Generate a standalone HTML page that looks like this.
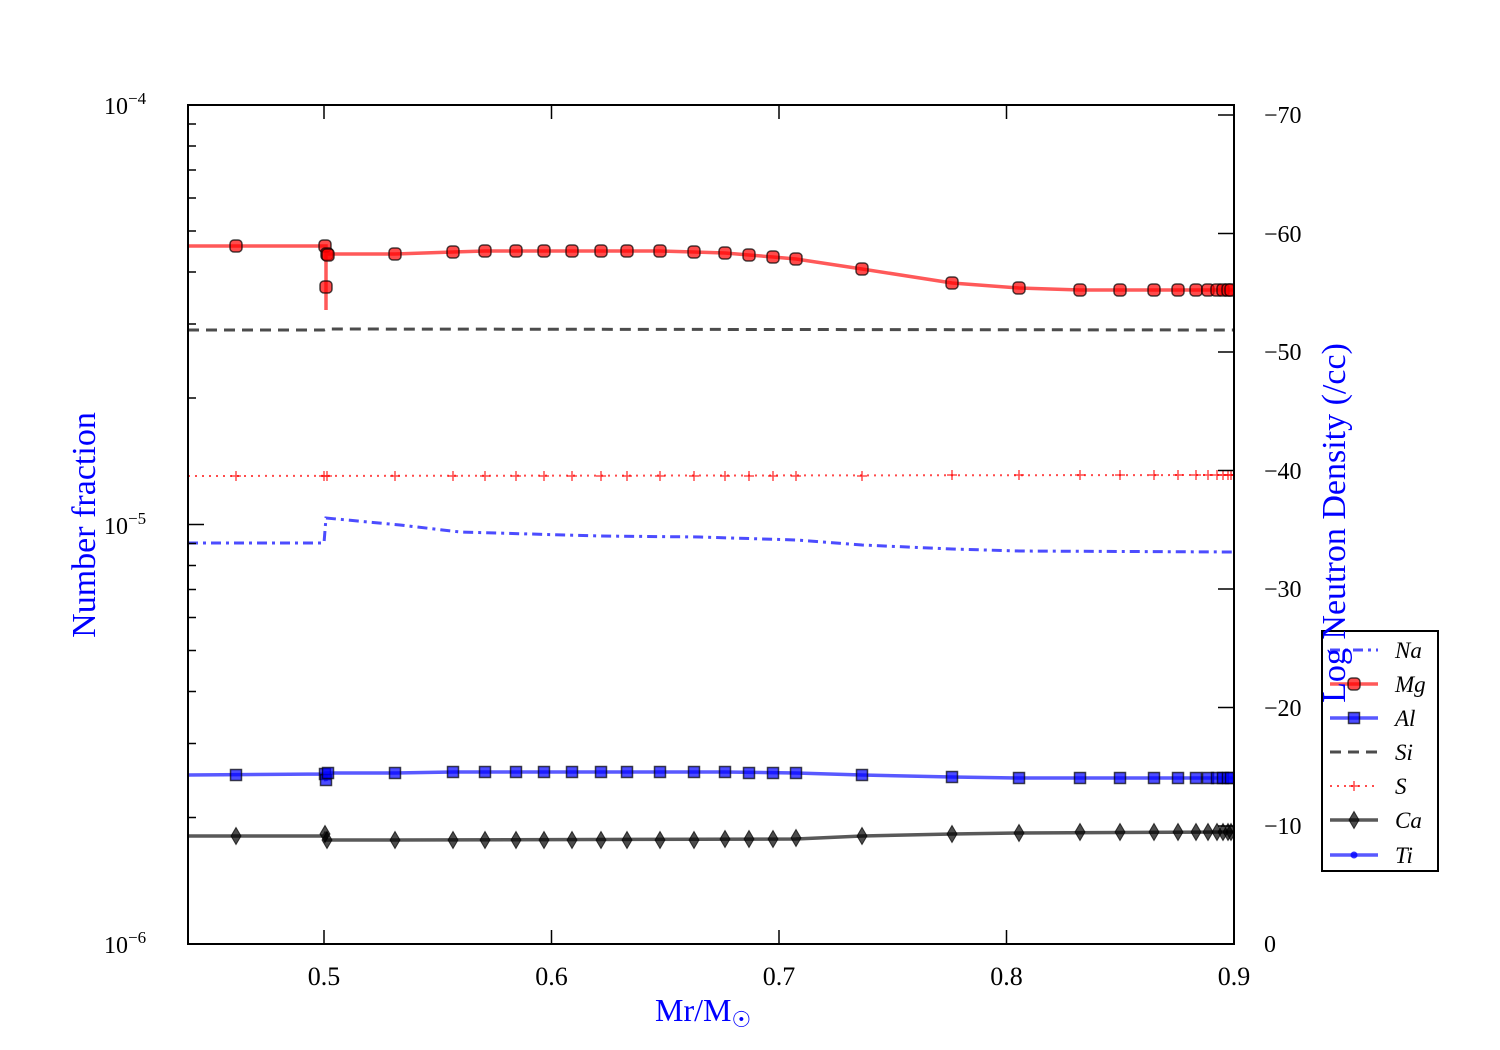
<!DOCTYPE html>
<html><head><meta charset="utf-8"><style>body{margin:0;background:#fff}svg{display:block}</style></head><body>
<svg width="1500" height="1050" xmlns="http://www.w3.org/2000/svg" font-family="Liberation Serif, serif">
<rect width="1500" height="1050" fill="#fff"/>
<defs>
<clipPath id="c"><rect x="188" y="105" width="1046" height="839"/></clipPath>
<g id="mg"><rect x="-6" y="-6" width="12" height="12" rx="3.8" fill="#ff0000" fill-opacity="0.7" stroke="#000" stroke-opacity="0.7" stroke-width="1.5"/></g>
<g id="al"><rect x="-5.5" y="-5.5" width="11" height="11" fill="#0000ff" fill-opacity="0.7" stroke="#000" stroke-opacity="0.7" stroke-width="1.5"/></g>
<g id="ca"><path d="M0,-8.5 L5,0 L0,8.5 L-5,0 Z" fill="#000" fill-opacity="0.7" stroke="#000" stroke-opacity="0.7" stroke-width="1"/></g>
<g id="sp"><path d="M-5,0H5M0,-5V5" stroke="#ff0000" stroke-opacity="0.7" stroke-width="1.5"/></g>
</defs>
<g clip-path="url(#c)">
<path d="M188,330 L324,330 L327,329 L1234,330" fill="none" stroke="#000" stroke-opacity="0.7" stroke-width="3" stroke-dasharray="11,7"/>
<path d="M188,476 L1234,475" fill="none" stroke="#ff0000" stroke-opacity="0.7" stroke-width="2" stroke-dasharray="2,5"/>
<path d="M188,543 L324,543 L326,518 L400,525 L460,532 L600,536 L700,537 L796,540 L862,545 L952,549 L1019,551 L1234,552" fill="none" stroke="#0000ff" stroke-opacity="0.7" stroke-width="3" stroke-dasharray="10,5,3,5"/>
<path d="M188,246 L324,246 L326,246 L326,310 L326,254 L395,254 L453,252 L485,251 L660,251 L694,252 L725,253 L749,255 L773,257 L796,259 L862,269 L952,283 L1019,288 L1080,290 L1234,290" fill="none" stroke="#ff0000" stroke-opacity="0.65" stroke-width="3.5"/>
<path d="M188,775 L324,774 L326,781 L326,773 L395,773 L453,772 L725,772 L796,773 L862,775 L952,777 L1019,778 L1234,778" fill="none" stroke="#0000ff" stroke-opacity="0.65" stroke-width="3.5"/>
<path d="M188,836 L324,836 L326,832 L326,840 L395,840 L796,839 L862,836 L952,834 L1019,833 L1234,832" fill="none" stroke="#000" stroke-opacity="0.65" stroke-width="3.5"/>
<g>
<use href="#mg" x="236" y="246"/><use href="#mg" x="325" y="246"/><use href="#mg" x="326" y="287"/><use href="#mg" x="327" y="254"/><use href="#mg" x="328" y="255"/>
<use href="#mg" x="395" y="254"/><use href="#mg" x="453" y="252"/><use href="#mg" x="485" y="251"/><use href="#mg" x="516" y="251"/><use href="#mg" x="544" y="251"/><use href="#mg" x="572" y="251"/><use href="#mg" x="601" y="251"/><use href="#mg" x="627" y="251"/><use href="#mg" x="660" y="251"/><use href="#mg" x="694" y="252"/><use href="#mg" x="725" y="253"/><use href="#mg" x="749" y="255"/><use href="#mg" x="773" y="257"/><use href="#mg" x="796" y="259"/><use href="#mg" x="862" y="269"/><use href="#mg" x="952" y="283"/><use href="#mg" x="1019" y="288"/><use href="#mg" x="1080" y="290"/><use href="#mg" x="1120" y="290"/><use href="#mg" x="1154" y="290"/><use href="#mg" x="1178" y="290"/><use href="#mg" x="1196" y="290"/><use href="#mg" x="1208" y="290"/><use href="#mg" x="1217" y="290"/><use href="#mg" x="1223" y="290"/><use href="#mg" x="1228" y="290"/><use href="#mg" x="1231" y="290"/>
</g>
<g>
<use href="#al" x="236" y="775"/><use href="#al" x="325" y="774"/><use href="#al" x="326" y="780"/><use href="#al" x="328" y="773"/>
<use href="#al" x="395" y="773"/><use href="#al" x="453" y="772"/><use href="#al" x="485" y="772"/><use href="#al" x="516" y="772"/><use href="#al" x="544" y="772"/><use href="#al" x="572" y="772"/><use href="#al" x="601" y="772"/><use href="#al" x="627" y="772"/><use href="#al" x="660" y="772"/><use href="#al" x="694" y="772"/><use href="#al" x="725" y="772"/><use href="#al" x="749" y="773"/><use href="#al" x="773" y="773"/><use href="#al" x="796" y="773"/><use href="#al" x="862" y="775"/><use href="#al" x="952" y="777"/><use href="#al" x="1019" y="778"/><use href="#al" x="1080" y="778"/><use href="#al" x="1120" y="778"/><use href="#al" x="1154" y="778"/><use href="#al" x="1178" y="778"/><use href="#al" x="1196" y="778"/><use href="#al" x="1208" y="778"/><use href="#al" x="1217" y="778"/><use href="#al" x="1223" y="778"/><use href="#al" x="1228" y="778"/><use href="#al" x="1231" y="778"/>
</g>
<g>
<use href="#ca" x="236" y="836"/><use href="#ca" x="325" y="834"/><use href="#ca" x="327" y="840"/>
<use href="#ca" x="395" y="840"/><use href="#ca" x="453" y="840"/><use href="#ca" x="485" y="840"/><use href="#ca" x="516" y="840"/><use href="#ca" x="544" y="840"/><use href="#ca" x="572" y="840"/><use href="#ca" x="601" y="840"/><use href="#ca" x="627" y="840"/><use href="#ca" x="660" y="840"/><use href="#ca" x="694" y="840"/><use href="#ca" x="725" y="839"/><use href="#ca" x="749" y="839"/><use href="#ca" x="773" y="839"/><use href="#ca" x="796" y="838"/><use href="#ca" x="862" y="836"/><use href="#ca" x="952" y="834"/><use href="#ca" x="1019" y="833"/><use href="#ca" x="1080" y="832"/><use href="#ca" x="1120" y="832"/><use href="#ca" x="1154" y="832"/><use href="#ca" x="1178" y="832"/><use href="#ca" x="1196" y="832"/><use href="#ca" x="1208" y="832"/><use href="#ca" x="1217" y="832"/><use href="#ca" x="1223" y="832"/><use href="#ca" x="1228" y="832"/><use href="#ca" x="1231" y="832"/>
</g>
<g>
<use href="#sp" x="236" y="476"/><use href="#sp" x="324" y="476"/><use href="#sp" x="327" y="476"/><use href="#sp" x="395" y="476"/><use href="#sp" x="453" y="476"/><use href="#sp" x="485" y="476"/><use href="#sp" x="516" y="476"/><use href="#sp" x="544" y="476"/><use href="#sp" x="572" y="476"/><use href="#sp" x="601" y="476"/><use href="#sp" x="627" y="476"/><use href="#sp" x="660" y="476"/><use href="#sp" x="694" y="476"/><use href="#sp" x="725" y="476"/><use href="#sp" x="749" y="476"/><use href="#sp" x="773" y="476"/><use href="#sp" x="796" y="476"/><use href="#sp" x="862" y="476"/><use href="#sp" x="952" y="475"/><use href="#sp" x="1019" y="475"/><use href="#sp" x="1080" y="475"/><use href="#sp" x="1120" y="475"/><use href="#sp" x="1154" y="475"/><use href="#sp" x="1178" y="475"/><use href="#sp" x="1196" y="475"/><use href="#sp" x="1208" y="475"/><use href="#sp" x="1217" y="475"/><use href="#sp" x="1223" y="475"/><use href="#sp" x="1228" y="475"/><use href="#sp" x="1231" y="475"/>
</g>
</g>
<rect x="188" y="105" width="1046" height="839" fill="none" stroke="#000" stroke-width="2"/>
<g stroke="#000" stroke-width="1.5">
<path d="M188,105h16M188,524.5h16M188,944h16"/>
<path d="M188,124h8M188,146h8M188,170h8M188,198h8M188,231h8M188,272h8M188,324h8M188,398h8M188,543.5h8M188,565.5h8M188,589.5h8M188,617.5h8M188,650.5h8M188,691.5h8M188,743.5h8M188,817.5h8"/>
<path d="M324,944v-14M551.5,944v-14M779,944v-14M1006.5,944v-14M324,105v14M551.5,105v14M779,105v14M1006.5,105v14"/>
<path d="M1234,115h-16M1234,233.5h-16M1234,352h-16M1234,470.5h-16M1234,589h-16M1234,707.5h-16M1234,826h-16"/>
</g>
<g font-size="24" fill="#000">
<text x="104" y="114">10<tspan font-size="17" dy="-10">−4</tspan></text>
<text x="104" y="534">10<tspan font-size="17" dy="-10">−5</tspan></text>
<text x="104" y="953">10<tspan font-size="17" dy="-10">−6</tspan></text>
<g text-anchor="middle" font-size="26"><text x="324" y="985">0.5</text><text x="551.5" y="985">0.6</text><text x="779" y="985">0.7</text><text x="1006.5" y="985">0.8</text><text x="1234" y="985">0.9</text></g>
<text x="1264" y="123">−70</text><text x="1264" y="242">−60</text><text x="1264" y="360">−50</text><text x="1264" y="479">−40</text><text x="1264" y="597">−30</text><text x="1264" y="716">−20</text><text x="1264" y="834">−10</text><text x="1264" y="952">0</text>
</g>
<text transform="translate(95,525) rotate(-90)" text-anchor="middle" font-size="34" fill="#0000ff">Number fraction</text>
<text x="655" y="1021" font-size="32" fill="#0000ff">Mr/M<tspan font-size="22" dy="6">☉</tspan></text>
<rect x="1322" y="631" width="116" height="240" fill="#fff" fill-opacity="0.8" stroke="#000" stroke-width="2"/>
<g>
<path d="M1330,650H1378" stroke="#0000ff" stroke-opacity="0.7" stroke-width="3" stroke-dasharray="10,5,3,5"/>
<path d="M1330,684H1378" stroke="#ff0000" stroke-opacity="0.65" stroke-width="3.5"/><use href="#mg" x="1354" y="684"/>
<path d="M1330,718H1378" stroke="#0000ff" stroke-opacity="0.65" stroke-width="3.5"/><use href="#al" x="1354" y="718"/>
<path d="M1330,752H1378" stroke="#000" stroke-opacity="0.7" stroke-width="3" stroke-dasharray="11,7"/>
<path d="M1330,786H1378" stroke="#ff0000" stroke-opacity="0.7" stroke-width="2" stroke-dasharray="2,5"/><use href="#sp" x="1354" y="786"/>
<path d="M1330,820H1378" stroke="#000" stroke-opacity="0.65" stroke-width="3.5"/><use href="#ca" x="1354" y="820"/>
<path d="M1330,855H1378" stroke="#0000ff" stroke-opacity="0.65" stroke-width="3.5"/><circle cx="1354" cy="855" r="3.5" fill="#0000ff" fill-opacity="0.8"/>
</g>
<g font-size="23" font-style="italic" fill="#000">
<text x="1395" y="658">Na</text><text x="1395" y="692">Mg</text><text x="1395" y="726">Al</text><text x="1395" y="760">Si</text><text x="1395" y="794">S</text><text x="1395" y="828">Ca</text><text x="1395" y="863">Ti</text>
</g>
<text transform="translate(1345,523) rotate(-90)" text-anchor="middle" font-size="34" fill="#0000ff">Log Neutron Density (/cc)</text>
</svg>
</body></html>
